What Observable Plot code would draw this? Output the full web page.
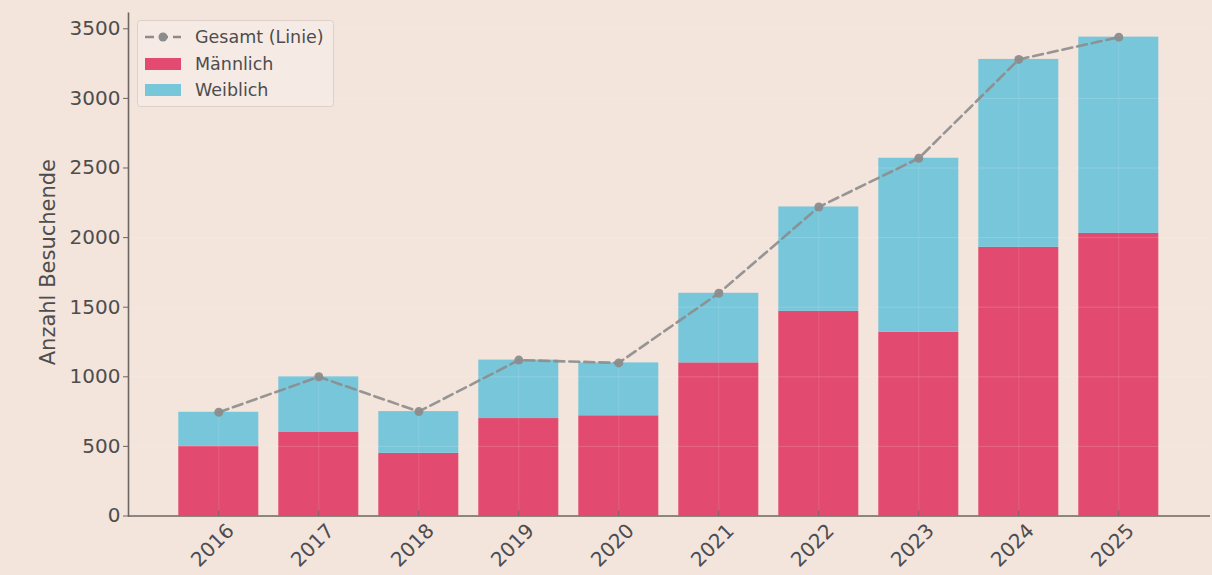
<!DOCTYPE html>
<html>
<head>
<meta charset="utf-8">
<script src="https://cdn.jsdelivr.net/npm/d3@7"></script>
<script src="https://cdn.jsdelivr.net/npm/@observablehq/plot@0.6"></script>
<style>
  html, body { margin: 0; padding: 0; background: #f3e4dc; }
  #wrap { position: relative; width: 1212px; height: 575px; }
  #legend { position: absolute; left: 0; top: 0; }
</style>
</head>
<body>
<div id="wrap"></div>
<script>
const years = [2016, 2017, 2018, 2019, 2020, 2021, 2022, 2023, 2024, 2025];
const male = [500, 600, 450, 700, 720, 1100, 1470, 1320, 1930, 2030];
const female = [245, 400, 300, 420, 380, 500, 750, 1250, 1350, 1410];
const yTicks = [0, 500, 1000, 1500, 2000, 2500, 3000, 3500];
const seriesNames = ["Männlich", "Weiblich"];
const lineName = "Gesamt (Linie)";
const yLabel = "Anzahl Besuchende";

const colMale = "#e34a70";
const colFemale = "#78c6da";
const colLine = "#8c8c8c";
const textCol = "#4d4d4d";
const axisCol = "#6e6460";

const stacked = [];
years.forEach((y, i) => {
  stacked.push({year: y, sex: seriesNames[0], value: male[i]});
  stacked.push({year: y, sex: seriesNames[1], value: female[i]});
});
const totals = years.map((y, i) => ({year: y, total: male[i] + female[i]}));

const chart = Plot.plot({
  width: 1212,
  height: 575,
  marginLeft: 128,
  marginRight: 2,
  marginTop: 12.7,
  marginBottom: 59.5,
  style: {background: "transparent", fontFamily: "DejaVu Sans", fontSize: "20px", color: textCol},
  x: {type: "band", domain: years, range: [158.3, 1178.3], padding: 0.2, round: false, axis: null},
  y: {domain: [0, 3612], ticks: yTicks, axis: null},
  color: {domain: seriesNames, range: [colMale, colFemale]},
  marks: [
    Plot.barY(stacked, Plot.stackY({x: "year", y: "value", fill: "sex", order: seriesNames})),
    Plot.gridY(yTicks, {stroke: "#ffffff", strokeOpacity: 0.16, strokeWidth: 1}),
    Plot.gridX(years, {stroke: "#ffffff", strokeOpacity: 0.12, strokeWidth: 1}),
    Plot.line(totals, {x: "year", y: "total", stroke: colLine, strokeWidth: 2.6, strokeDasharray: "10,5", strokeOpacity: 0.9}),
    Plot.dot(totals, {x: "year", y: "total", fill: colLine, r: 4.5, fillOpacity: 0.95}),
    Plot.ruleY([0], {stroke: axisCol, strokeWidth: 1.6}),
    Plot.frame({anchor: "left", stroke: axisCol, strokeWidth: 1.6}),
    Plot.axisY({ticks: yTicks, tickFormat: d => String(d), tickSize: 5, tickPadding: 3, label: null, stroke: axisCol, fontSize: 20}),
    Plot.axisX({tickSize: -5, tickFormat: () => "", label: null, stroke: axisCol}),
    Plot.text(years, {x: d => d, frameAnchor: "bottom", dy: 34, dx: -1.5, rotate: -45, text: d => String(d), textAnchor: "middle", fill: textCol, fontSize: 20}),
    Plot.text([yLabel], {frameAnchor: "left", dx: -80, dy: -2.5, rotate: -90, text: d => d, fill: textCol, fontSize: 21, textAnchor: "middle"})
  ]
});
document.getElementById("wrap").appendChild(chart);

// Legend overlay
const leg = d3.select("#wrap").append("svg")
  .attr("id", "legend").attr("width", 1212).attr("height", 575)
  .style("pointer-events", "none");
leg.append("rect").attr("x", 137.5).attr("y", 20.5).attr("width", 196).attr("height", 86)
  .attr("rx", 3).attr("fill", "#f6ebe6").attr("fill-opacity", 0.85)
  .attr("stroke", "#ddd0ca").attr("stroke-width", 1);
leg.append("line").attr("x1", 145).attr("x2", 181).attr("y1", 37).attr("y2", 37)
  .attr("stroke", colLine).attr("stroke-width", 2.6).attr("stroke-dasharray", "9,5");
leg.append("circle").attr("cx", 163).attr("cy", 37).attr("r", 4.5).attr("fill", colLine);
leg.append("rect").attr("x", 145).attr("y", 58).attr("width", 36).attr("height", 12).attr("fill", colMale);
leg.append("rect").attr("x", 145).attr("y", 84).attr("width", 36).attr("height", 12).attr("fill", colFemale);
const labels = [lineName, seriesNames[0], seriesNames[1]];
const ys = [37, 64, 90];
labels.forEach((t, i) => {
  leg.append("text").attr("x", 195).attr("y", ys[i]).attr("dy", "0.35em")
    .attr("font-family", "DejaVu Sans").attr("font-size", 17.5).attr("fill", textCol).text(t);
});
</script>
</body>
</html>
